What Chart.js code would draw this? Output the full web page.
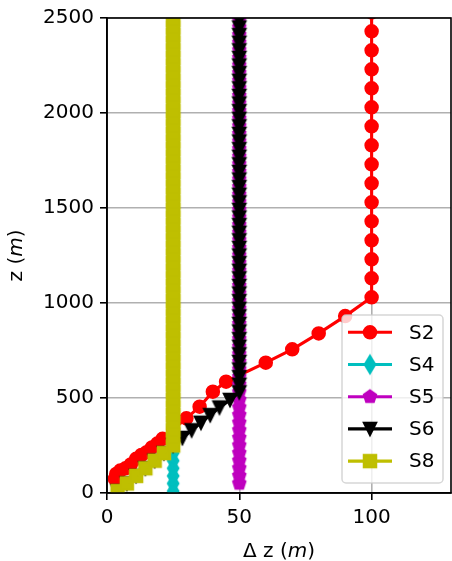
<!DOCTYPE html>
<html>
<head>
<meta charset="utf-8">
<script src="https://cdn.jsdelivr.net/npm/chart.js@4.4.1/dist/chart.umd.min.js"></script>
<style>
  html, body { margin: 0; padding: 0; background: #fff; }
  canvas { display: block; }
</style>
</head>
<body>
<canvas id="chart" width="452" height="561"></canvas>
<script>
// ---- data ----
const labels = ["S2", "S4", "S5", "S6", "S8"];

// S2 has its own depths
const s2Z = [75, 100, 118, 130, 150, 180, 200, 215, 240, 260, 285, 335, 393, 454, 533, 586,
  686, 756, 840, 931,
  1030, 1130, 1230, 1330, 1430, 1530, 1630, 1730, 1830, 1930, 2030, 2130, 2230, 2330, 2430, 2530];
const s2Dz = [3, 3.5, 5, 7, 9, 11, 13, 15, 17, 19, 21, 25, 30, 35, 40, 45,
  60, 70, 80, 90,
  100, 100, 100, 100, 100, 100, 100, 100, 100, 100, 100, 100, 100, 100, 100, 100];

// depths shared by S4, S5, S6, S8
const zGrid = [10, 50, 90, 130, 170, 210, 250, 290, 330, 370, 410, 450, 490, 530, 570, 610,
  650, 690, 730, 770, 810, 850, 890, 930, 970, 1010, 1050, 1090, 1130, 1170, 1210, 1250,
  1290, 1330, 1370, 1410, 1450, 1490, 1530, 1570, 1610, 1650, 1690, 1730, 1770, 1810, 1850, 1890,
  1930, 1970, 2010, 2050, 2090, 2130, 2170, 2210, 2250, 2290, 2330, 2370, 2410, 2450, 2490, 2530];

const s4Dz = [25, 25, 25, 25, 25, 25, 25, 25, 25, 25, 25, 25, 25, 25, 25, 25,
  25, 25, 25, 25, 25, 25, 25, 25, 25, 25, 25, 25, 25, 25, 25, 25,
  25, 25, 25, 25, 25, 25, 25, 25, 25, 25, 25, 25, 25, 25, 25, 25,
  25, 25, 25, 25, 25, 25, 25, 25, 25, 25, 25, 25, 25, 25, 25, 25];
const s5Dz = [null, 50, 50, 50, 50, 50, 50, 50, 50, 50, 50, 50, 50, 50, 50, 50,
  50, 50, 50, 50, 50, 50, 50, 50, 50, 50, 50, 50, 50, 50, 50, 50,
  50, 50, 50, 50, 50, 50, 50, 50, 50, 50, 50, 50, 50, 50, 50, 50,
  50, 50, 50, 50, 50, 50, 50, 50, 50, 50, 50, 50, 50, 50, 50, 50];
const s6Dz = [4, 7.5, 11, 14.5, 18, 21.5, 25, 28.5, 32, 35.5, 39, 42.5, 46.5, 50, 50, 50,
  50, 50, 50, 50, 50, 50, 50, 50, 50, 50, 50, 50, 50, 50, 50, 50,
  50, 50, 50, 50, 50, 50, 50, 50, 50, 50, 50, 50, 50, 50, 50, 50,
  50, 50, 50, 50, 50, 50, 50, 50, 50, 50, 50, 50, 50, 50, 50, 50];
const s8Dz = [4, 7.5, 11, 14.5, 18, 21.5, 25, 25, 25, 25, 25, 25, 25, 25, 25, 25,
  25, 25, 25, 25, 25, 25, 25, 25, 25, 25, 25, 25, 25, 25, 25, 25,
  25, 25, 25, 25, 25, 25, 25, 25, 25, 25, 25, 25, 25, 25, 25, 25,
  25, 25, 25, 25, 25, 25, 25, 25, 25, 25, 25, 25, 25, 25, 25, 25];

const xTicks = [0, 50, 100];
const yTicks = [0, 500, 1000, 1500, 2000, 2500];
const xMax = 130;
const yMax = 2500;

const FONT = '"DejaVu Sans", sans-serif';
const colors = ["#ff0000", "#00bfbf", "#bf00bf", "#000000", "#bfbf00"];

// matplotlib-like markers drawn to small canvases
function markerCanvas(shape, color) {
  const c = document.createElement("canvas");
  c.width = 24;
  c.height = 24;
  const g = c.getContext("2d");
  g.translate(12, 12);
  g.beginPath();
  if (shape === "thinDiamond") {
    g.moveTo(0, -8.8); g.lineTo(5.3, 0); g.lineTo(0, 8.8); g.lineTo(-5.3, 0);
  } else if (shape === "pentagon") {
    for (let k = 0; k < 5; k++) {
      const a = -Math.PI / 2 + k * 2 * Math.PI / 5;
      const px = 6.5 * Math.cos(a), py = 6.5 * Math.sin(a);
      if (k === 0) g.moveTo(px, py); else g.lineTo(px, py);
    }
  } else if (shape === "triangleDown") {
    g.moveTo(-6.25, -6.25); g.lineTo(6.25, -6.25); g.lineTo(0, 6.25);
  } else if (shape === "square") {
    g.rect(-6.25, -6.25, 12.5, 12.5);
  }
  g.closePath();
  g.fillStyle = color;
  g.fill();
  g.lineWidth = 2;
  g.lineJoin = "miter";
  g.strokeStyle = color;
  g.stroke();
  return c;
}

const markers = [
  "circle",
  markerCanvas("thinDiamond", colors[1]),
  markerCanvas("pentagon", colors[2]),
  markerCanvas("triangleDown", colors[3]),
  markerCanvas("square", colors[4]),
];

function pts(dz, z) {
  return dz.map((d, i) => ({ x: d, y: z[i] }));
}

const seriesDz = [s2Dz, s4Dz, s5Dz, s6Dz, s8Dz];
const seriesZ = [s2Z, zGrid, zGrid, zGrid, zGrid];

// S8 drawn on top, S2 at the bottom (lower order = drawn later)
const datasets = labels.map((name, i) => ({
  label: name,
  data: pts(seriesDz[i], seriesZ[i]),
  showLine: true,
  borderColor: colors[i],
  borderWidth: 3.1,
  backgroundColor: colors[i],
  pointStyle: markers[i],
  pointRadius: 6.25,
  pointBorderWidth: 2,
  pointBackgroundColor: colors[i],
  pointBorderColor: colors[i],
  tension: 0,
  clip: 0,
  order: labels.length - i,
}));

function drawMixed(ctx, parts, cx, baseline) {
  const fonts = parts.map((p) => (p[1] ? "italic " : "") + "20px " + FONT);
  let total = 0;
  const widths = parts.map((p, i) => {
    ctx.font = fonts[i];
    const w = ctx.measureText(p[0]).width;
    total += w;
    return w;
  });
  let x = cx - total / 2;
  ctx.textAlign = "left";
  ctx.textBaseline = "alphabetic";
  parts.forEach((p, i) => {
    ctx.font = fonts[i];
    ctx.fillText(p[0], x, baseline);
    x += widths[i];
  });
}

const decor = {
  id: "decor",
  afterDatasetsDraw(chart) {
    const { ctx, chartArea: a } = chart;
    ctx.save();
    ctx.strokeStyle = "#000";
    ctx.lineWidth = 1.6;
    ctx.strokeRect(a.left, a.top, a.right - a.left, a.bottom - a.top);
    ctx.restore();
  },
  afterDraw(chart) {
    const { ctx, chartArea: a } = chart;
    ctx.save();
    ctx.fillStyle = "#000";
    // axis titles
    drawMixed(ctx, [["\u0394 z (", false], ["m", true], [")", false]], (a.left + a.right) / 2, 557);
    ctx.translate(22, (a.top + a.bottom) / 2);
    ctx.rotate(-Math.PI / 2);
    drawMixed(ctx, [["z (", false], ["m", true], [")", false]], 0, 0);
    ctx.restore();

    // legend, lower right inside the axes
    const w = 101, h = 168;
    const lx = a.right - 8 - w, ly = a.bottom - 10 - h;
    ctx.save();
    ctx.beginPath();
    ctx.roundRect(lx, ly, w, h, 4);
    ctx.fillStyle = "rgba(255,255,255,0.8)";
    ctx.fill();
    ctx.strokeStyle = "rgba(204,204,204,0.8)";
    ctx.lineWidth = 1.5;
    ctx.stroke();
    chart.data.datasets.forEach((ds, i) => {
      const y = ly + 17.3 + i * 32.2;
      ctx.strokeStyle = ds.borderColor;
      ctx.lineWidth = ds.borderWidth;
      ctx.beginPath();
      ctx.moveTo(lx + 6, y);
      ctx.lineTo(lx + 50, y);
      ctx.stroke();
      if (ds.pointStyle === "circle") {
        ctx.beginPath();
        ctx.arc(lx + 28, y, ds.pointRadius, 0, Math.PI * 2);
        ctx.fillStyle = ds.borderColor;
        ctx.fill();
        ctx.lineWidth = 2;
        ctx.stroke();
      } else {
        const img = ds.pointStyle;
        ctx.drawImage(img, lx + 28 - img.width / 2, y - img.height / 2);
      }
      ctx.fillStyle = "#000";
      ctx.font = "20px " + FONT;
      ctx.textAlign = "left";
      ctx.textBaseline = "middle";
      ctx.fillText(ds.label, lx + 67, y + 1);
    });
    ctx.restore();
  },
};

const gridOpts = {
  color: "#b0b0b0",
  lineWidth: 1.6,
  tickColor: "#000",
  tickLength: 7,
  tickWidth: 1.6,
};

new Chart(document.getElementById("chart"), {
  type: "scatter",
  data: { datasets },
  options: {
    responsive: false,
    devicePixelRatio: 1,
    animation: false,
    events: [],
    layout: { autoPadding: false, padding: { top: 18, right: 1, bottom: 0, left: 0 } },
    plugins: {
      legend: { display: false },
      tooltip: { enabled: false },
    },
    scales: {
      x: {
        type: "linear",
        min: 0,
        max: xMax,
        afterBuildTicks: (s) => { s.ticks = xTicks.map((v) => ({ value: v })); },
        afterFit: (s) => { s.height = 68; s.paddingLeft = 0; s.paddingRight = 0; },
        grid: gridOpts,
        border: { color: "#000", width: 1.6 },
        ticks: {
          color: "#000", font: { family: FONT, size: 20 }, padding: 6, maxRotation: 0, autoSkip: false,
          callback: (v) => String(v),
        },
      },
      y: {
        type: "linear",
        min: 0,
        max: yMax,
        afterBuildTicks: (s) => { s.ticks = yTicks.map((v) => ({ value: v })); },
        afterFit: (s) => { s.width = 107; },
        grid: gridOpts,
        border: { color: "#000", width: 1.6 },
        ticks: {
          color: "#000", font: { family: FONT, size: 20 }, padding: 6, autoSkip: false,
          callback: (v) => String(v),
        },
      },
    },
  },
  plugins: [decor],
});
</script>
</body>
</html>
